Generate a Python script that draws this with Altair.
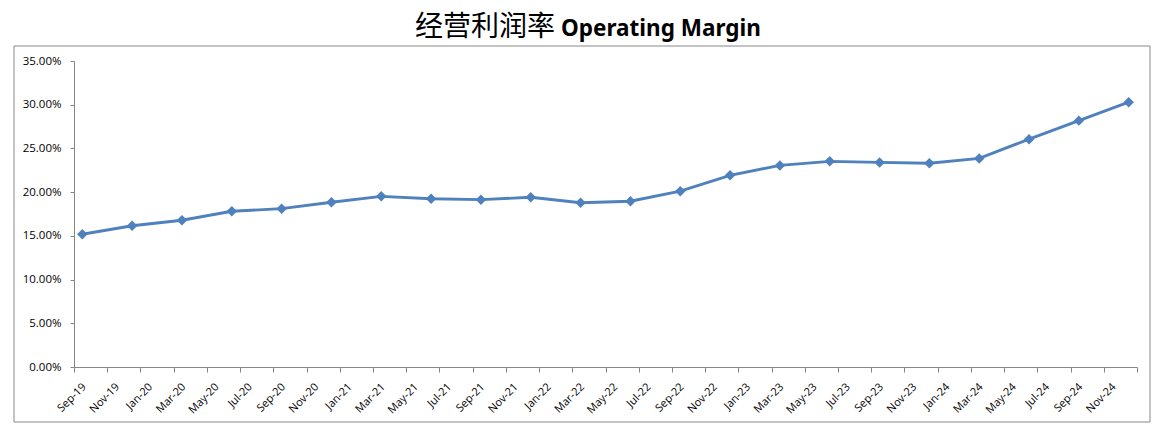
import altair as alt
import pandas as pd

# ---- data ----
quarters = ["Sep-19", "Dec-19", "Mar-20", "Jun-20", "Sep-20", "Dec-20",
            "Mar-21", "Jun-21", "Sep-21", "Dec-21", "Mar-22", "Jun-22",
            "Sep-22", "Dec-22", "Mar-23", "Jun-23", "Sep-23", "Dec-23",
            "Mar-24", "Jun-24", "Sep-24", "Dec-24"]
margin = [0.1518, 0.1616, 0.1678, 0.1781, 0.1811, 0.1884,
          0.1952, 0.1925, 0.1914, 0.1941, 0.1879, 0.1896,
          0.2011, 0.2192, 0.2306, 0.2352, 0.2340, 0.2330,
          0.2386, 0.2606, 0.2818, 0.3029]
tick_labels = ["Sep-19", "Nov-19", "Jan-20", "Mar-20", "May-20", "Jul-20",
               "Sep-20", "Nov-20", "Jan-21", "Mar-21", "May-21", "Jul-21",
               "Sep-21", "Nov-21", "Jan-22", "Mar-22", "May-22", "Jul-22",
               "Sep-22", "Nov-22", "Jan-23", "Mar-23", "May-23", "Jul-23",
               "Sep-23", "Nov-23", "Jan-24", "Mar-24", "May-24", "Jul-24",
               "Sep-24", "Nov-24"]
y_ticks = [0, 0.05, 0.10, 0.15, 0.20, 0.25, 0.30, 0.35]
title_zh = "经营利润率"
title_en = "Operating Margin"

MONTHS = ["Jan", "Feb", "Mar", "Apr", "May", "Jun",
          "Jul", "Aug", "Sep", "Oct", "Nov", "Dec"]


def month_slot(lbl):
    m, y = lbl.split("-")
    return (2000 + int(y) - 2019) * 12 + MONTHS.index(m) - 8 + 0.5


df = pd.DataFrame({"quarter": quarters, "margin": margin,
                   "slot": [month_slot(q) for q in quarters]})

n_slots = len(tick_labels) * 2  # 64 month slots, Sep-19 .. Dec-24
label_arr = "[" + ",".join("'%s'" % t for t in tick_labels) + "]"

BLUE = "#4F81BD"
GRAY = "#868686"
FONT = "Open Sans"

x_enc = alt.X("slot:Q",
              scale=alt.Scale(domain=[0, n_slots], nice=False, zero=False),
              axis=alt.Axis(values=list(range(0, n_slots + 1, 2)),
                            labelExpr="datum.value/2 < %d ? %s[datum.value/2] : ''"
                            % (len(tick_labels), label_arr),
                            labelAngle=-45, labelAlign="right",
                            labelBaseline="middle", labelOffset=10,
                            labelPadding=13, tickSize=5, grid=False,
                            title=None, labelFont=FONT, labelFontSize=11,
                            labelColor="black", domainColor=GRAY,
                            tickColor=GRAY, labelOverlap=False,
                            labelBound=False, labelFlush=False))
y_enc = alt.Y("margin:Q",
              scale=alt.Scale(domain=[0, 0.35], nice=False),
              axis=alt.Axis(values=y_ticks, format=".2%", grid=False,
                            title=None, tickSize=4, labelPadding=9,
                            labelFont=FONT, labelFontSize=11.5,
                            labelColor="black", domainColor=GRAY,
                            tickColor=GRAY))

line = alt.Chart(df).mark_line(color=BLUE, strokeWidth=2.9).encode(
    x=x_enc, y=y_enc)
pts = alt.Chart(df).mark_point(shape="diamond", filled=True, color=BLUE,
                               size=110, opacity=1).encode(
    x=x_enc, y=y_enc)

one = pd.DataFrame({"zh": [title_zh], "en": [title_en]})
frame = alt.Chart(one).mark_rect(fillOpacity=0, stroke="#878787",
                                 strokeWidth=1).encode(
    x=alt.value(-60), x2=alt.value(1076), y=alt.value(-15), y2=alt.value(361))
t_zh = alt.Chart(one).mark_text(font="Noto Sans CJK SC", fontSize=28,
                                fontWeight="normal", align="right",
                                baseline="middle", color="black").encode(
    text="zh:N", x=alt.value(481), y=alt.value(-33))
t_en = alt.Chart(one).mark_text(font="Noto Sans", fontSize=22.5,
                                fontWeight="bold", align="left",
                                baseline="middle", color="black").encode(
    text="en:N", x=alt.value(487), y=alt.value(-32))

chart = alt.layer(line, pts, frame, t_zh, t_en).properties(
    width=1063, height=306,
    background="white",
    autosize=alt.AutoSizeParams(type="none"),
    padding={"left": 66, "top": 53, "right": 14, "bottom": 56},
).configure_view(stroke="transparent", strokeWidth=0).configure_axis(
    labelOverlap=False)

chart.save("out.html", embed_options={"renderer": "svg", "actions": False})
